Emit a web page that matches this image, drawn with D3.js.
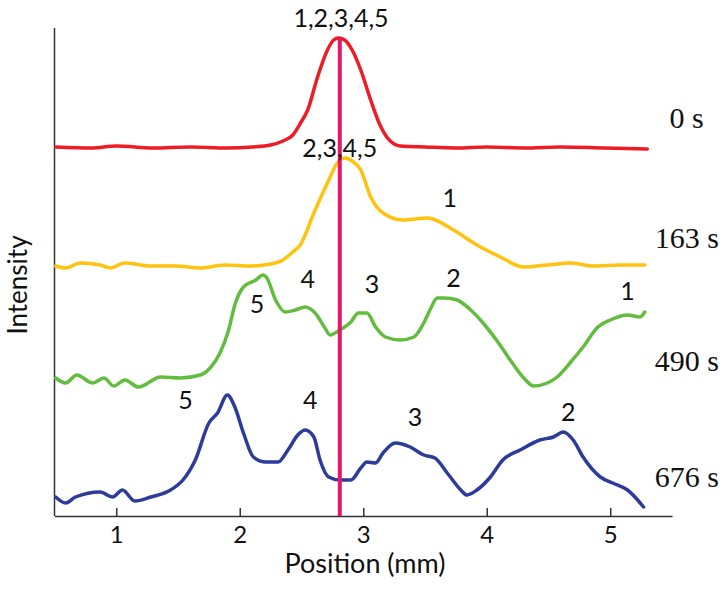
<!DOCTYPE html>
<html>
<head>
<meta charset="utf-8">
<script src="https://cdn.jsdelivr.net/npm/d3@7"></script>
<style>
  body { margin: 0; background: #fff; }
  svg { display: block; }
</style>
</head>
<body>
<svg id="chart" width="726" height="593"></svg>
<script>
// data: [position (mm), stacked intensity]
var red = [[0.51,73.8],[0.8,73.6],[1.0,74.0],[1.3,73.6],[1.6,73.8],[1.9,73.6],[2.1,73.8],[2.25,74.2],[2.35,75.0],[2.43,76.2],[2.49,78.5],[2.55,81.2],[2.63,87.8],[2.71,93.2],[2.76,95.2],[2.80,95.6],[2.85,95.2],[2.91,93.2],[2.98,89.2],[3.06,83.2],[3.13,78.5],[3.19,75.8],[3.25,74.4],[3.30,74.0],[3.5,73.8],[3.75,73.6],[4.0,73.8],[4.3,73.6],[4.6,73.8],[4.95,73.6],[5.3,73.4]];
var yellow = [[0.51,50.0],[0.59,49.6],[0.71,50.6],[0.87,50.2],[0.95,49.6],[1.07,50.6],[1.28,50.0],[1.48,50.0],[1.68,49.6],[1.88,50.2],[2.09,50.0],[2.25,50.4],[2.35,51.2],[2.43,52.8],[2.49,54.2],[2.60,60.6],[2.71,66.6],[2.79,70.6],[2.85,71.6],[2.91,71.0],[2.98,69.2],[3.06,63.8],[3.16,60.6],[3.32,59.2],[3.52,59.6],[3.73,57.2],[3.92,54.2],[4.11,51.8],[4.30,49.8],[4.49,50.2],[4.68,50.6],[4.86,50.0],[5.08,50.2],[5.28,50.2]];
var green = [[0.51,27.6],[0.59,26.6],[0.68,28.2],[0.81,26.6],[0.90,27.6],[0.98,26.0],[1.07,27.2],[1.18,25.8],[1.36,27.8],[1.52,27.6],[1.68,28.2],[1.76,29.6],[1.84,32.6],[1.91,37.2],[1.96,42.2],[2.03,45.8],[2.13,47.2],[2.19,48.2],[2.22,47.6],[2.29,43.2],[2.37,40.8],[2.45,41.2],[2.53,41.8],[2.61,40.6],[2.69,37.6],[2.73,36.2],[2.81,37.2],[2.90,38.8],[2.96,40.6],[3.03,40.6],[3.10,37.8],[3.18,35.8],[3.30,35.2],[3.41,35.8],[3.49,38.6],[3.54,41.2],[3.60,43.6],[3.66,43.6],[3.76,43.2],[3.87,41.2],[3.97,38.6],[4.09,34.8],[4.19,31.2],[4.30,27.6],[4.38,26.0],[4.49,26.6],[4.57,27.8],[4.68,30.8],[4.78,33.8],[4.90,37.8],[5.0,39.2],[5.14,40.2],[5.24,39.8],[5.28,40.8]];
var blue = [[0.51,3.8],[0.59,2.6],[0.67,3.8],[0.87,4.8],[0.97,3.8],[1.05,5.2],[1.15,3.0],[1.28,3.8],[1.44,5.2],[1.54,7.2],[1.64,11.2],[1.75,18.6],[1.82,20.6],[1.90,24.2],[1.96,21.8],[2.03,16.6],[2.11,11.8],[2.21,10.8],[2.31,10.8],[2.39,13.2],[2.47,16.2],[2.53,17.2],[2.60,15.8],[2.65,11.2],[2.72,7.8],[2.81,7.2],[2.90,7.2],[2.98,9.6],[3.03,10.8],[3.10,10.6],[3.16,12.6],[3.26,14.6],[3.38,13.8],[3.49,12.2],[3.58,11.6],[3.68,8.6],[3.79,5.2],[3.84,4.2],[3.92,5.2],[4.03,7.8],[4.13,11.2],[4.27,13.2],[4.43,15.2],[4.54,15.8],[4.62,16.8],[4.70,15.2],[4.78,11.8],[4.92,7.8],[5.02,6.6],[5.14,5.2],[5.27,1.8]];

var seriesColors = ['#ee1d25', '#ffc20e', '#62bd3f', '#2d3c9a'];
var timeLabels = ['0 s', '163 s', '490 s', '676 s'];
var timeLabelPos = [[5.48,77.6],[5.36,53.6],[5.36,29.0],[5.36,5.8]];

var xTicks = [1, 2, 3, 4, 5];
var markerPos = 2.81;

// peak annotations: [position, intensity, text]
var peakLabels = [
  [2.82,97.8,'1,2,3,4,5'],
  [2.81,71.8,'2,3,4,5'],
  [3.70,61.8,'1'],
  [2.14,40.6,'5'],[2.55,45.6,'4'],[3.07,44.6,'3'],[3.73,45.8,'2'],[5.14,43.2,'1'],
  [1.56,21.4,'5'],[2.57,21.4,'4'],[3.42,18.0,'3'],[4.66,19.0,'2']
];

var svg = d3.select('#chart');
var sans = 'Lato, "Open Sans", sans-serif';
var serif = '"Liberation Serif", "DejaVu Serif", serif';

var x = d3.scaleLinear().domain([0.5, 5.5]).range([54.5, 672]);
var y = d3.scaleLinear().domain([0, 100]).range([516, 16]);

var line = d3.line()
             .x(function(d){ return x(d[0]); })
             .y(function(d){ return y(d[1]); })
             .curve(d3.curveMonotoneX);

// !axes
var xAxis = svg.append('g')
               .attr('transform','translate(0,' + y(0) + ')')
               .call(d3.axisBottom(x).tickValues(xTicks).tickFormat(d3.format('d'))
                       .tickSizeInner(-8).tickSizeOuter(0).tickPadding(10));
xAxis.select('.domain').attr('stroke','#333').attr('stroke-width',1.5);
xAxis.selectAll('.tick line').attr('stroke','#333').attr('stroke-width',1.5);
xAxis.selectAll('.tick text')
     .attr('fill','#111')
     .style('font-family',sans)
     .style('font-size','24px');

svg.append('line')
   .attr('x1',x(0.5))
   .attr('x2',x(0.5))
   .attr('y1',y(97.6))
   .attr('y2',y(0))
   .attr('stroke','#333')
   .attr('stroke-width',1.5);

svg.append('text')
   .text('Position (mm)')
   .attr('x',365)
   .attr('y',573)
   .attr('text-anchor','middle')
   .attr('fill','#111')
   .style('font-family',sans)
   .style('font-size','27px');

svg.append('text')
   .text('Intensity')
   .attr('transform','translate(27,285) rotate(-90)')
   .attr('text-anchor','middle')
   .attr('fill','#111')
   .style('font-family',sans)
   .style('font-size','26px');

// !curves
[red, yellow, green, blue].forEach(function(s, i){
  svg.append('path')
     .datum(s)
     .attr('d',line)
     .attr('fill','none')
     .attr('stroke',seriesColors[i])
     .attr('stroke-width',3.5)
     .attr('stroke-linejoin','round')
     .attr('stroke-linecap','round');
});

// !marker line
svg.append('line')
   .attr('x1',x(markerPos))
   .attr('x2',x(markerPos))
   .attr('y1',y(95.6))
   .attr('y2',y(0))
   .attr('stroke','#e3176e')
   .attr('stroke-width',4);

// !labels
svg.selectAll('text.peak')
   .data(peakLabels)
   .enter()
   .append('text')
   .attr('class','peak')
   .text(function(d){ return d[2]; })
   .attr('x',function(d){ return x(d[0]); })
   .attr('y',function(d){ return y(d[1]); })
   .attr('text-anchor','middle')
   .attr('fill','#111')
   .style('font-family',sans)
   .style('font-size','25px');

svg.selectAll('text.time')
   .data(timeLabels)
   .enter()
   .append('text')
   .attr('class','time')
   .text(function(d){ return d; })
   .attr('x',function(d, i){ return x(timeLabelPos[i][0]); })
   .attr('y',function(d, i){ return y(timeLabelPos[i][1]); })
   .attr('fill','#111')
   .style('font-family',serif)
   .style('font-size','30px');
</script>
</body>
</html>
